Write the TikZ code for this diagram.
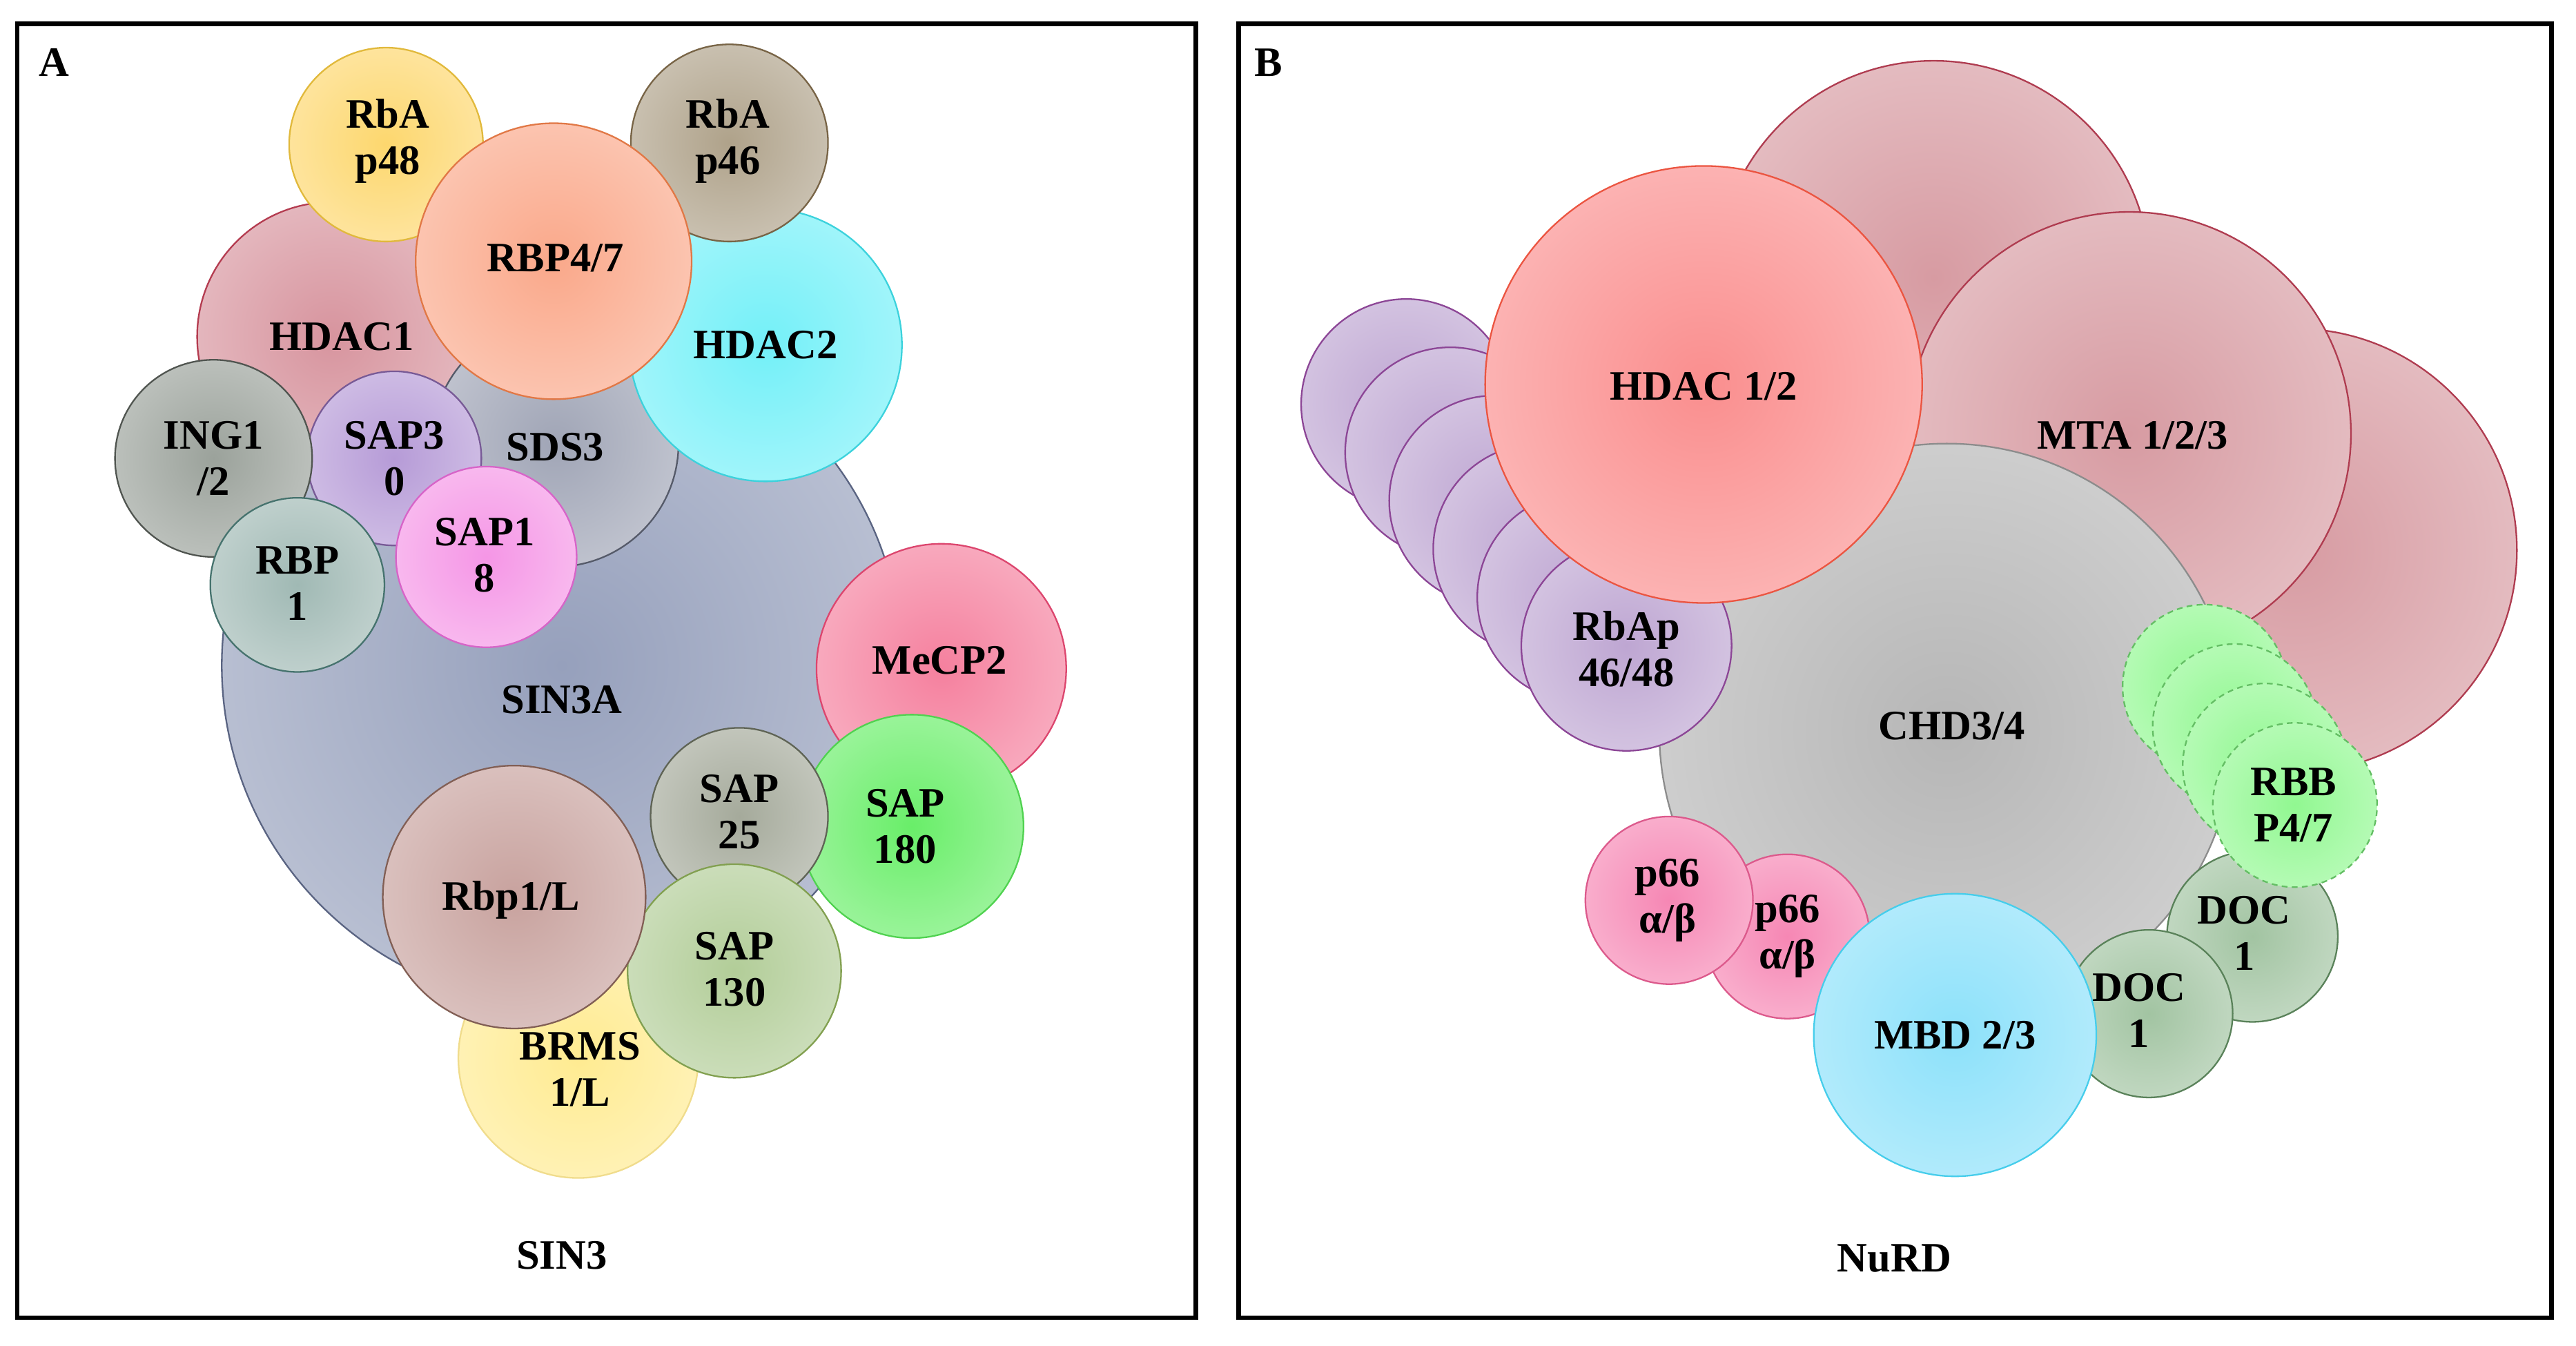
\documentclass[tikz,border=0pt]{standalone}
\usepackage{fontspec}
\setmainfont{Liberation Serif}
\usepackage{tikz}

% fill (centre) and rim colours of the subunits
\definecolor{sinc}{RGB}{150,160,188}   \definecolor{sind}{RGB}{90,100,130}
\definecolor{sdsc}{RGB}{160,165,182}   \definecolor{sdsd}{RGB}{85,90,105}
\definecolor{hdaconec}{RGB}{215,148,158} \definecolor{hdaconed}{RGB}{180,60,80}
\definecolor{rbaec}{RGB}{253,215,110}  \definecolor{rbaed}{RGB}{225,185,60}
\definecolor{hdactwoc}{RGB}{115,240,248} \definecolor{hdactwod}{RGB}{60,210,220}
\definecolor{rbasc}{RGB}{175,162,138}  \definecolor{rbasd}{RGB}{120,100,70}
\definecolor{rbpsc}{RGB}{250,168,138}  \definecolor{rbpsd}{RGB}{225,120,70}
\definecolor{brmsc}{RGB}{255,235,145}  \definecolor{brmsd}{RGB}{240,220,140}
\definecolor{mecpc}{RGB}{245,128,158}  \definecolor{mecpd}{RGB}{220,70,110}
\definecolor{sapec}{RGB}{105,238,105}  \definecolor{saped}{RGB}{80,210,80}
\definecolor{saptc}{RGB}{165,170,155}  \definecolor{saptd}{RGB}{95,100,85}
\definecolor{sapfc}{RGB}{178,205,152}  \definecolor{sapfd}{RGB}{130,160,80}
\definecolor{rbplc}{RGB}{200,162,158}  \definecolor{rbpld}{RGB}{130,95,85}
\definecolor{sapzc}{RGB}{182,155,215}  \definecolor{sapzd}{RGB}{120,90,150}
\definecolor{ingc}{RGB}{155,162,155}   \definecolor{ingd}{RGB}{80,85,80}
\definecolor{rbpoc}{RGB}{160,185,180}  \definecolor{rbpod}{RGB}{70,115,110}
\definecolor{sapnc}{RGB}{245,150,230}  \definecolor{sapnd}{RGB}{215,100,200}
\definecolor{mtac}{RGB}{215,155,162}   \definecolor{mtad}{RGB}{175,60,80}
\definecolor{chdc}{RGB}{182,182,182}   \definecolor{chdd}{RGB}{140,140,140}
\definecolor{rbapc}{RGB}{190,166,210}  \definecolor{rbapd}{RGB}{140,70,150}
\definecolor{hdacbc}{RGB}{250,142,142} \definecolor{hdacbd}{RGB}{235,85,65}
\definecolor{docc}{RGB}{162,196,162}   \definecolor{docd}{RGB}{90,130,90}
\definecolor{rbbc}{RGB}{145,248,145}   \definecolor{rbbd}{RGB}{100,190,100}
\definecolor{pssc}{RGB}{246,135,180}   \definecolor{pssd}{RGB}{220,90,140}
\definecolor{mbdc}{RGB}{140,225,250}   \definecolor{mbdd}{RGB}{70,205,235}

\colorlet{incol}{white}
\colorlet{outcol}{white}
\pgfdeclareradialshading[incol,outcol]{blobshade}{\pgfpoint{0bp}{0bp}}{color(0bp)=(incol); color(50bp)=(outcol)}

\tikzset{
  blob/.style n args={3}{circle, inner sep=0pt, minimum size=#1*0.4mm, draw=#3, line width=0.55pt,
    /utils/exec={\colorlet{incol}{#2}\colorlet{outcol}{#2!36!white}}, shading=blobshade},
  lbl/.style={font=\bfseries\fontsize{14.5}{16}\selectfont, align=center, inner sep=0pt},
  frame/.style={line width=1.6pt},
}

\begin{document}
\begin{tikzpicture}[x=0.2mm, y=-0.2mm]
  \useasboundingbox (0,0) rectangle (1568,819);
  \draw[frame] (10.5,14.5) rectangle (728,802);
  \draw[frame] (754,14.5) rectangle (1553,802);

  % A: SIN3
  \node[blob={207}{sinc}{sind}] (sin3a) at (342,405) {};
  \node[blob={82}{hdaconec}{hdaconed}] (hdac1) at (202,205) {};
  \node[blob={75}{sdsc}{sdsd}] (sds3) at (338,270) {};
  \node[blob={59}{rbaec}{rbaed}] (rba48) at (235,88) {};
  \node[blob={83}{hdactwoc}{hdactwod}] (hdac2) at (466,210) {};
  \node[blob={60}{rbasc}{rbasd}] (rba46) at (444,87) {};
  \node[blob={84}{rbpsc}{rbpsd}] (rbp47) at (337,159) {};
  \node[blob={73}{brmsc}{brmsd}] (brms) at (352,644) {};
  \node[blob={76}{mecpc}{mecpd}] (mecp2) at (573,407) {};
  \node[blob={68}{sapec}{saped}] (sap180) at (555,503) {};
  \node[blob={54}{saptc}{saptd}] (sap25) at (450,497) {};
  \node[blob={65}{sapfc}{sapfd}] (sap130) at (447,591) {};
  \node[blob={80}{rbplc}{rbpld}] (rbp1l) at (313,546) {};
  \node[blob={53}{sapzc}{sapzd}] (sap30) at (240,279) {};
  \node[blob={60}{ingc}{ingd}] (ing12) at (130,279) {};
  \node[blob={53}{rbpoc}{rbpod}] (rbp1) at (181,356) {};
  \node[blob={55}{sapnc}{sapnd}] (sap18) at (296,339) {};

  \node[lbl] (tA) at (33,38) {A};
  \node[lbl] (t-rba48) at (236,86) {RbA\\p48};
  \node[lbl] (t-rba46) at (443,86) {RbA\\p46};
  \node[lbl] (t-rbp47) at (338,157) {RBP4/7};
  \node[lbl] (t-hdac1) at (208,205) {HDAC1};
  \node[lbl] (t-hdac2) at (466,210) {HDAC2};
  \node[lbl] (t-ing12) at (130,279) {ING1\\/2};
  \node[lbl] (t-sap30) at (240,279) {SAP3\\0};
  \node[lbl] (t-sds3) at (338,272) {SDS3};
  \node[lbl] (t-rbp1) at (181,355) {RBP\\1};
  \node[lbl] (t-sap18) at (295,338) {SAP1\\8};
  \node[lbl] (t-sin3a) at (342,426) {SIN3A};
  \node[lbl] (t-mecp2) at (572,402) {MeCP2};
  \node[lbl] (t-sap25) at (450,494) {SAP\\25};
  \node[lbl] (t-sap180) at (551,503) {SAP\\180};
  \node[lbl] (t-rbp1l) at (311,548) {Rbp1/L};
  \node[lbl] (t-sap130) at (447,590) {SAP\\130};
  \node[lbl] (t-brms) at (353,651) {BRMS\\1/L};
  \node[lbl] (t-sin3) at (342,764) {SIN3};

  % B: NuRD
  \node[blob={132}{mtac}{mtad}] (mta0) at (1177,169) {};
  \node[blob={135}{mtac}{mtad}] (mta2) at (1397,335) {};
  \node[blob={135}{mtac}{mtad}] (mta1) at (1296,264) {};
  \node[blob={175}{chdc}{chdd}] (chd) at (1185,445) {};
  \foreach \k in {0,...,5}
    \node[blob={64}{rbapc}{rbapd}] (rbap\k) at (856+26.8*\k,246+29.4*\k) {};
  \node[blob={133}{hdacbc}{hdacbd}] (hdac12) at (1037,234) {};
  \node[blob={52}{docc}{docd}] (doc1) at (1371,570) {};
  \node[blob={51}{docc}{docd}] (doc0) at (1308,617) {};
  \foreach \k in {0,...,3}
    \node[blob={50}{rbbc}{rbbd}, dash pattern=on 2pt off 1.5pt] (rbb\k) at (1342+18.3*\k,418+24*\k) {};
  \node[blob={50}{pssc}{pssd}] (p66b) at (1088,570) {};
  \node[blob={51}{pssc}{pssd}] (p66a) at (1016,548) {};
  \node[blob={86}{mbdc}{mbdd}] (mbd) at (1190,630) {};

  \node[lbl] (tB) at (772,38) {B};
  \node[lbl] (t-hdac12) at (1037,235) {HDAC 1/2};
  \node[lbl] (t-mta) at (1298,265) {MTA 1/2/3};
  \node[lbl] (t-rbap) at (990,395) {RbAp\\46/48};
  \node[lbl] (t-chd) at (1188,442) {CHD3/4};
  \node[lbl] (t-rbb) at (1396,490) {RBB\\P4/7};
  \node[lbl] (t-doc1) at (1366,568) {DOC\\1};
  \node[lbl] (t-doc0) at (1302,615) {DOC\\1};
  \node[lbl] (t-p66a) at (1015,548) {p66\\α/β};
  \node[lbl] (t-p66b) at (1088,570) {p66\\α/β};
  \node[lbl] (t-mbd) at (1190,630) {MBD 2/3};
  \node[lbl] (t-nurd) at (1153,766) {NuRD};
\end{tikzpicture}
\end{document}
